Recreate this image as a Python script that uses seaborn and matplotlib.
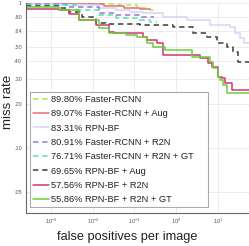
import numpy as np
import pandas as pd
import matplotlib
matplotlib.use("Agg")
import matplotlib.pyplot as plt
import seaborn as sns
from matplotlib.patches import Rectangle
from matplotlib.ticker import FixedLocator, FixedFormatter, LogFormatterSciNotation, NullLocator

# ---- data ----
labels = ["89.80% Faster-RCNN", "89.07% Faster-RCNN + Aug", "83.31% RPN-BF",
          "80.91% Faster-RCNN + R2N", "76.71% Faster-RCNN + R2N + GT",
          "69.65% RPN-BF + Aug", "57.56% RPN-BF + R2N", "55.86% RPN-BF + R2N + GT"]

frcnn_x = [2.5e-4, 8.2e-3, 0.0436, 0.112, 0.23, 0.36]
frcnn_y = [0.984, 0.992, 0.969, 0.924, 0.895, 0.895]

frcnn_aug_x = [2.5e-4, 8.2e-3, 0.019, 0.057, 0.132, 0.23]
frcnn_aug_y = [0.995, 0.984, 0.953, 0.924, 0.909, 0.909]

rpnbf_x = [2.5e-4, 1.56e-3, 0.0144, 0.0368, 0.076, 0.156, 0.473, 1.79, 6.4, 19.5, 25.7, 33.9, 42.4, 55.0]
rpnbf_y = [0.984, 0.969, 0.924, 0.895, 0.867, 0.853, 0.801, 0.763, 0.705, 0.683, 0.621, 0.573, 0.530, 0.530]

frcnn_r2n_x = [2.5e-4, 2.3e-3, 0.0144, 0.0368, 0.132, 0.30]
frcnn_r2n_y = [0.984, 0.938, 0.853, 0.827, 0.801, 0.801]

frcnn_r2n_gt_x = [2.5e-4, 4.0e-3, 0.0144, 0.0368, 0.112, 0.23, 0.34]
frcnn_r2n_gt_y = [0.969, 0.895, 0.827, 0.788, 0.763, 0.740, 0.740]

rpnbf_aug_x = [2.5e-4, 1.56e-3, 2.7e-3, 5.6e-3, 0.0121, 0.0211, 0.132, 0.824, 2.5, 5.43, 9.46, 16.5, 23.0, 30.3, 55.0]
rpnbf_aug_y = [0.953, 0.924, 0.867, 0.801, 0.728, 0.716, 0.705, 0.683, 0.621, 0.583, 0.530, 0.497, 0.459, 0.392, 0.392]

rpnbf_r2n_x = [2.5e-4, 1.56e-3, 2.7e-3, 4.7e-3, 0.0121, 0.025, 0.033, 0.156, 0.195, 0.339, 0.473, 3.68, 5.74, 7.17, 10.0, 12.5, 14.8, 21.7, 55.0]
rpnbf_r2n_y = [0.909, 0.895, 0.840, 0.763, 0.705, 0.631, 0.621, 0.583, 0.556, 0.530, 0.438, 0.418, 0.386, 0.362, 0.309, 0.304, 0.281, 0.251, 0.251]

rpnbf_r2n_gt_x = [2.5e-4, 1.56e-3, 4.7e-3, 0.0144, 0.025, 0.064, 0.112, 0.195, 0.272, 0.53, 2.36, 6.4, 7.59, 10.0, 11.2, 13.2, 16.5, 55.0]
rpnbf_r2n_gt_y = [0.938, 0.895, 0.763, 0.672, 0.621, 0.602, 0.583, 0.530, 0.497, 0.474, 0.424, 0.392, 0.356, 0.309, 0.294, 0.272, 0.240, 0.240]

ytick_vals = [0.05, 0.10, 0.20, 0.30, 0.40, 0.50, 0.64, 0.80, 1.0]
ytick_labels = [".05", ".10", ".20", ".30", ".40", ".50", ".64", ".80", "1"]
xtick_vals = [1e-3, 1e-2, 1e-1, 1e0, 1e1]

series = [
    (frcnn_x, frcnn_y, "#a6ef4a", "dash"),
    (frcnn_aug_x, frcnn_aug_y, "#ef6a78", "solid"),
    (rpnbf_x, rpnbf_y, "#d4d4fb", "solid"),
    (frcnn_r2n_x, frcnn_r2n_y, "#9a72e0", "dash"),
    (frcnn_r2n_gt_x, frcnn_r2n_gt_y, "#4fe6ad", "dash"),
    (rpnbf_aug_x, rpnbf_aug_y, "#3a3a3a", "dash"),
    (rpnbf_r2n_x, rpnbf_r2n_y, "#d0386a", "solid"),
    (rpnbf_r2n_gt_x, rpnbf_r2n_gt_y, "#6ccc3c", "solid"),
]

sns.set_theme(style="white")
plt.rcParams["font.family"] = ["Liberation Sans", "DejaVu Sans"]

DPI = 100
W, H = 249, 246
fig = plt.figure(figsize=(W / DPI, H / DPI), dpi=DPI)
ax = fig.add_axes([26 / W, 1 - 213 / H, 1 - 26 / W, (213 - 3) / H])

for (xs, ys, col, st), lab in zip(series, labels):
    df = pd.DataFrame({"fppi": xs, "mr": ys})
    ls = (0, (3.5, 2.5)) if st == "dash" else "-"
    sns.lineplot(data=df, x="fppi", y="mr", ax=ax, color=col, linewidth=1.1,
                 linestyle=ls, drawstyle="steps-post", estimator=None, sort=False,
                 label=lab)

ax.set_xscale("log")
ax.set_yscale("log")
ax.set_xlim(10 ** -3.602, 10 ** 1.747)
ax.set_ylim(10 ** -1.448, 1.0)

ax.yaxis.set_major_locator(FixedLocator(ytick_vals))
ax.yaxis.set_major_formatter(FixedFormatter(ytick_labels))
ax.yaxis.set_minor_locator(NullLocator())
ax.xaxis.set_major_locator(FixedLocator(xtick_vals))
ax.xaxis.set_major_formatter(LogFormatterSciNotation())
ax.xaxis.set_minor_locator(NullLocator())

ax.grid(True, color="#ececec", linewidth=0.7)
ax.tick_params(axis="both", which="major", direction="in", length=2, width=0.5,
               labelsize=4, colors="#555555", pad=3)
for s in ["top", "right"]:
    ax.spines[s].set_visible(False)
for s in ["left", "bottom"]:
    ax.spines[s].set_color("#666666")
    ax.spines[s].set_linewidth(0.8)

renderer = fig.canvas.get_renderer()
px2pt = 72.0 / DPI

xl = ax.set_xlabel("false positives per image", fontsize=10, color="#222222")
w = xl.get_window_extent(renderer).width
lab_fs = 10 * 141.0 / w
ax.set_xlabel("false positives per image", fontsize=lab_fs, color="#222222")
ax.xaxis.set_label_coords(0.455, -0.088)
yl = ax.set_ylabel("miss rate", fontsize=lab_fs * 1.05, color="#222222")
ax.yaxis.set_label_coords(-0.054, 0.531)


def make_legend(fs, spacing):
    fpx = fs / px2pt
    lg = ax.legend(loc="upper left", bbox_to_anchor=(30 / W, 1 - 92 / H),
                   bbox_transform=fig.transFigure, fontsize=fs, frameon=False,
                   handlelength=16.0 / fpx, handletextpad=2.0 / fpx,
                   labelspacing=spacing, borderpad=3.0 / fpx, borderaxespad=0)
    for t in lg.get_texts():
        t.set_color("#222222")
    lg.set_zorder(6)
    return lg


leg = make_legend(7.0, 0.5)
w = max(t.get_window_extent(renderer).width for t in leg.get_texts())
leg_fs = 7.0 * 143.0 / w
leg = make_legend(leg_fs, 0.5)
h = max(t.get_window_extent(renderer).height for t in leg.get_texts())
fpx = leg_fs / px2pt
spacing = max((14.3 - h) / fpx, 0.1)
leg = make_legend(leg_fs, spacing)

# legend box (wider than its contents, as in the reference)
box = Rectangle((30 / W, 1 - 207 / H), (208 - 30) / W, (207 - 92) / H,
                transform=fig.transFigure, facecolor="white", edgecolor="#aaaaaa",
                linewidth=0.8, clip_on=False, zorder=5)
ax.add_patch(box)

fig.savefig("out.png", dpi=DPI)
